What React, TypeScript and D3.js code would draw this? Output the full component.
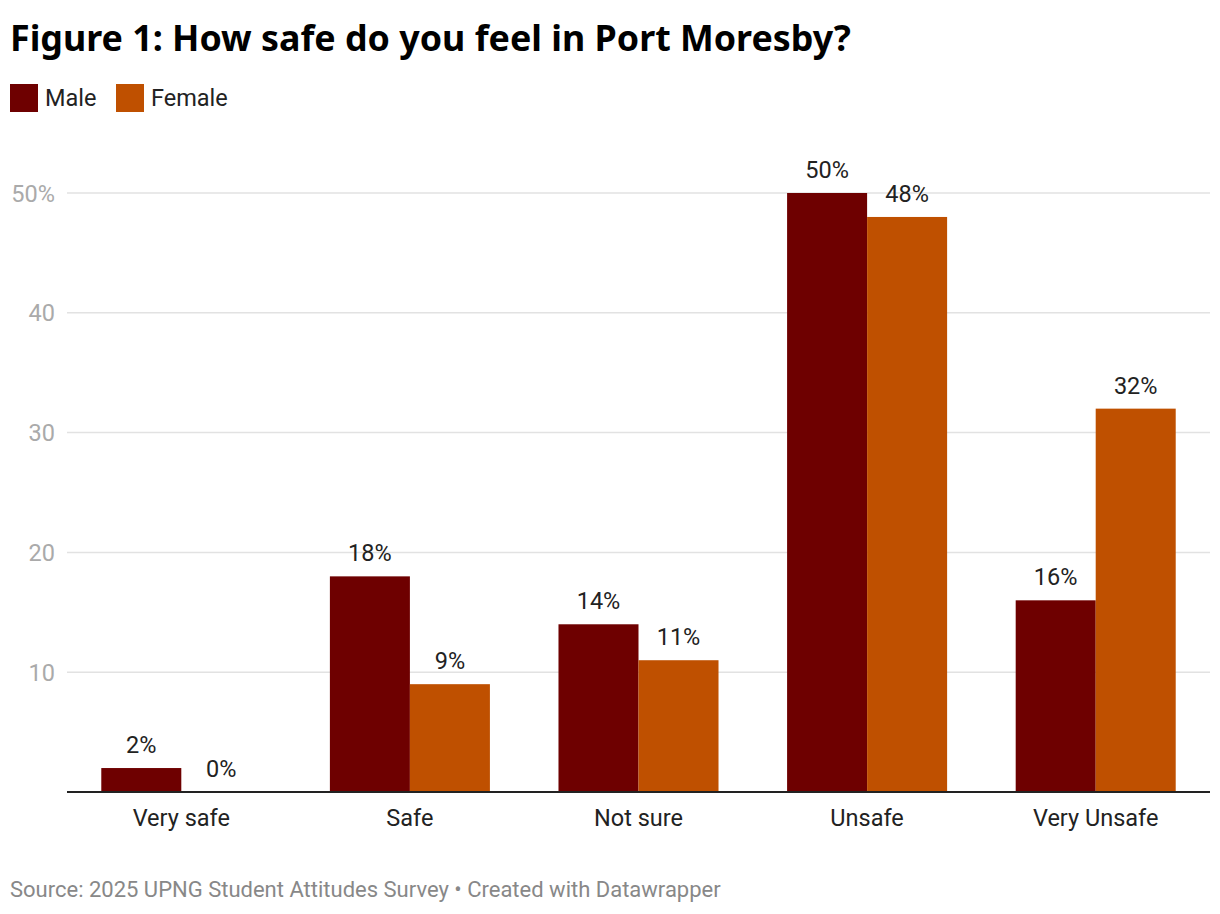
import React from "react";
import * as d3 from "d3";

const categories = ["Very safe", "Safe", "Not sure", "Unsafe", "Very Unsafe"];
const seriesNames = ["Male", "Female"];
const maleValues = [2, 18, 14, 50, 16];
const femaleValues = [0, 9, 11, 48, 32];
const yTicks = [10, 20, 30, 40, 50];
const colors = ["#6e0000", "#bf5000"];

const W = 1220;
const H = 914;
const margin = { left: 67, right: 10, top: 193, bottom: 792 };

export default function App() {
  const x0 = d3
    .scaleBand<string>()
    .domain(categories)
    .range([margin.left, W - margin.right])
    .paddingInner(0.3)
    .paddingOuter(0.15);
  const x1 = d3.scaleBand<string>().domain(seriesNames).range([0, x0.bandwidth()]);
  const y = d3.scaleLinear().domain([0, 50]).range([margin.bottom, margin.top]);
  const series = [maleValues, femaleValues];

  return (
    <svg
      width={W}
      height={H}
      style={{ position: "absolute", left: 0, top: 0, background: "#fff" }}
    >
      <text
        x={10}
        y={51}
        fontFamily="'Noto Sans', sans-serif"
        fontWeight={700}
        fontSize={35.8}
        fill="#000"
      >
        Figure 1: How safe do you feel in Port Moresby?
      </text>
      {seriesNames.map((s, i) => {
        const lx = i === 0 ? 10 : 116;
        return (
          <g key={s}>
            <rect x={lx} y={84} width={28} height={28} fill={colors[i]} />
            <text
              x={lx + 35}
              y={106}
              fontFamily="Roboto, sans-serif"
              fontSize={23.5}
              fill="#222"
            >
              {s}
            </text>
          </g>
        );
      })}
      {yTicks.map((t) => (
        <g key={t}>
          <line
            x1={margin.left}
            x2={W - margin.right}
            y1={y(t)}
            y2={y(t)}
            stroke="#e2e2e2"
            strokeWidth={1.5}
          />
          <text
            x={55}
            y={y(t) + 8.5}
            textAnchor="end"
            fontFamily="Roboto, sans-serif"
            fontSize={23.5}
            fill="#aaaaaa"
          >
            {t === 50 ? `${t}%` : t}
          </text>
        </g>
      ))}
      {categories.map((c, ci) => (
        <g key={c}>
          {series.map((vals, si) => {
            const bx = (x0(c) as number) + (x1(seriesNames[si]) as number);
            const v = vals[ci];
            return (
              <g key={si}>
                <rect
                  x={bx}
                  y={y(v)}
                  width={x1.bandwidth()}
                  height={margin.bottom - y(v)}
                  fill={colors[si]}
                />
                <text
                  x={bx + x1.bandwidth() / 2}
                  y={y(v) - 15}
                  textAnchor="middle"
                  fontFamily="Roboto, sans-serif"
                  fontSize={23.5}
                  fill="#222"
                >
                  {v}%
                </text>
              </g>
            );
          })}
          <text
            x={(x0(c) as number) + x0.bandwidth() / 2}
            y={826}
            textAnchor="middle"
            fontFamily="Roboto, sans-serif"
            fontSize={23.5}
            fill="#222"
          >
            {c}
          </text>
        </g>
      ))}
      <line
        x1={margin.left}
        x2={W - margin.right}
        y1={margin.bottom}
        y2={margin.bottom}
        stroke="#222"
        strokeWidth={2}
      />
      <text
        x={10}
        y={897}
        fontFamily="Roboto, sans-serif"
        fontSize={22}
        fill="#888888"
      >
        Source: 2025 UPNG Student Attitudes Survey • Created with Datawrapper
      </text>
    </svg>
  );
}
